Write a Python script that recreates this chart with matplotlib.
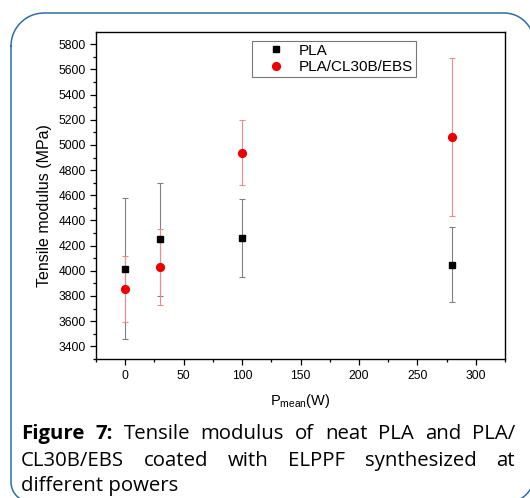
import matplotlib
matplotlib.use("Agg")
import matplotlib.pyplot as plt
import numpy as np
from matplotlib.ticker import MultipleLocator

# data
power = [0, 30, 100, 280]
pla = [4017, 4250, 4260, 4050]
pla_err = [558, 450, 310, 300]
pla_cl = [3855, 4030, 4940, 5065]
pla_cl_err = [260, 300, 260, 627]

labels = ["PLA", "PLA/CL30B/EBS"]
caption_lines = [
    [("Figure", "bold"), ("7:", "bold"), ("Tensile", "normal"), ("modulus", "normal"),
     ("of", "normal"), ("neat", "normal"), ("PLA", "normal"), ("and", "normal"), ("PLA/", "normal")],
    [("CL30B/EBS", "normal"), ("coated", "normal"), ("with", "normal"), ("ELPPF", "normal"),
     ("synthesized", "normal"), ("at", "normal")],
    [("different powers", "normal")],
]

W, H = 530, 498
plt.rcParams['font.family'] = ['Liberation Sans', 'DejaVu Sans']
plt.rcParams['mathtext.fontset'] = 'custom'
plt.rcParams['mathtext.rm'] = 'Liberation Sans'
plt.rcParams['mathtext.it'] = 'Liberation Sans'

fig = plt.figure(figsize=(W / 100, H / 100), dpi=100)

# background axes in pixel units (origin top-left) for frame + caption
bg = fig.add_axes([0, 0, 1, 1], zorder=-1)
bg.set_xlim(0, W)
bg.set_ylim(H, 0)
bg.axis('off')


def rounded_frame(x0, y0, x1, y1, radii):
    # corners: top-left, top-right, bottom-right, bottom-left (y grows downwards)
    r_tl, r_tr, r_br, r_bl = radii
    pts = []
    corners = [(x0 + r_tl, y0 + r_tl, r_tl, 180, 270), (x1 - r_tr, y0 + r_tr, r_tr, 270, 360),
               (x1 - r_br, y1 - r_br, r_br, 0, 90), (x0 + r_bl, y1 - r_bl, r_bl, 90, 180)]
    for cx, cy, r, a0, a1 in corners:
        a = np.radians(np.linspace(a0, a1, 20))
        pts += list(zip(cx + r * np.cos(a), cy + r * np.sin(a)))
    pts.append(pts[0])
    xs, ys = zip(*pts)
    return xs, ys


fx, fy = rounded_frame(11, 13, 534, 502, (33, 30, 26, 20))
bg.plot(fx, fy, color='#2e6ea3', linewidth=1.1, clip_on=False)

ax = fig.add_axes([96 / W, 1 - 359.3 / H, (505 - 96) / W, (359.3 - 32.3) / H])

ax.errorbar(power, pla, yerr=pla_err, fmt='none', ecolor='#808080', elinewidth=0.8,
            capsize=2.3, capthick=0.8, zorder=2)
ax.errorbar(power, pla_cl, yerr=pla_cl_err, fmt='none', ecolor='#ee8c8c', elinewidth=0.8,
            capsize=2.3, capthick=0.8, zorder=2)
ax.plot(power, pla, 's', color='black', markersize=5.0, label=labels[0], zorder=3)
ax.plot(power, pla_cl, 'o', color='#ee0000', markersize=5.6, label=labels[1], zorder=3)

ax.set_xlim(-25, 325)
ax.set_ylim(3297, 5895)
ax.xaxis.set_major_locator(MultipleLocator(50))
ax.xaxis.set_minor_locator(MultipleLocator(25))
ax.yaxis.set_major_locator(MultipleLocator(200))
ax.yaxis.set_minor_locator(MultipleLocator(100))
ax.tick_params(which='major', direction='out', length=4.5, width=0.9, labelsize=8.7, pad=3)
ax.tick_params(which='minor', direction='out', length=2.5, width=0.9)
ax.tick_params(top=False, right=False)
for s in ax.spines.values():
    s.set_linewidth(1.0)

ax.set_ylabel("Tensile modulus (MPa)", fontsize=11.5)
ax.yaxis.set_label_coords(-0.108, 0.47)
ax.set_xlabel(r"P$_{\mathrm{mean}}$(W)", fontsize=10.5)
ax.xaxis.set_label_coords(0.5, -0.1)

leg = ax.legend(loc='upper left', bbox_to_anchor=((252 - 96) / 409, (359.3 - 40.7) / 327),
                borderaxespad=0, fontsize=11, frameon=True, fancybox=False,
                edgecolor='#555555', handlelength=2.7, handletextpad=0.15,
                borderpad=0.2, labelspacing=0.15, numpoints=1)
leg.get_frame().set_linewidth(0.8)

# justified caption, words placed one by one
cap_font = ['Open Sans', 'DejaVu Sans']
left, right = 21, 515
baselines = [439, 465.5, 490.5]
renderer = fig.canvas.get_renderer()
for line, base in zip(caption_lines, baselines):
    texts = []
    for word, weight in line:
        t = bg.text(left, base, word, fontsize=14.7, fontweight=weight, family=cap_font,
                    va='baseline', ha='left')
        texts.append(t)
    widths = [t.get_window_extent(renderer).width for t in texts]
    gap = (right - left - sum(widths)) / (len(texts) - 1) if len(texts) > 1 else 0
    x = left
    for t, w in zip(texts, widths):
        t.set_position((x, base))
        x += w + gap

fig.savefig("out.png", dpi=100)
